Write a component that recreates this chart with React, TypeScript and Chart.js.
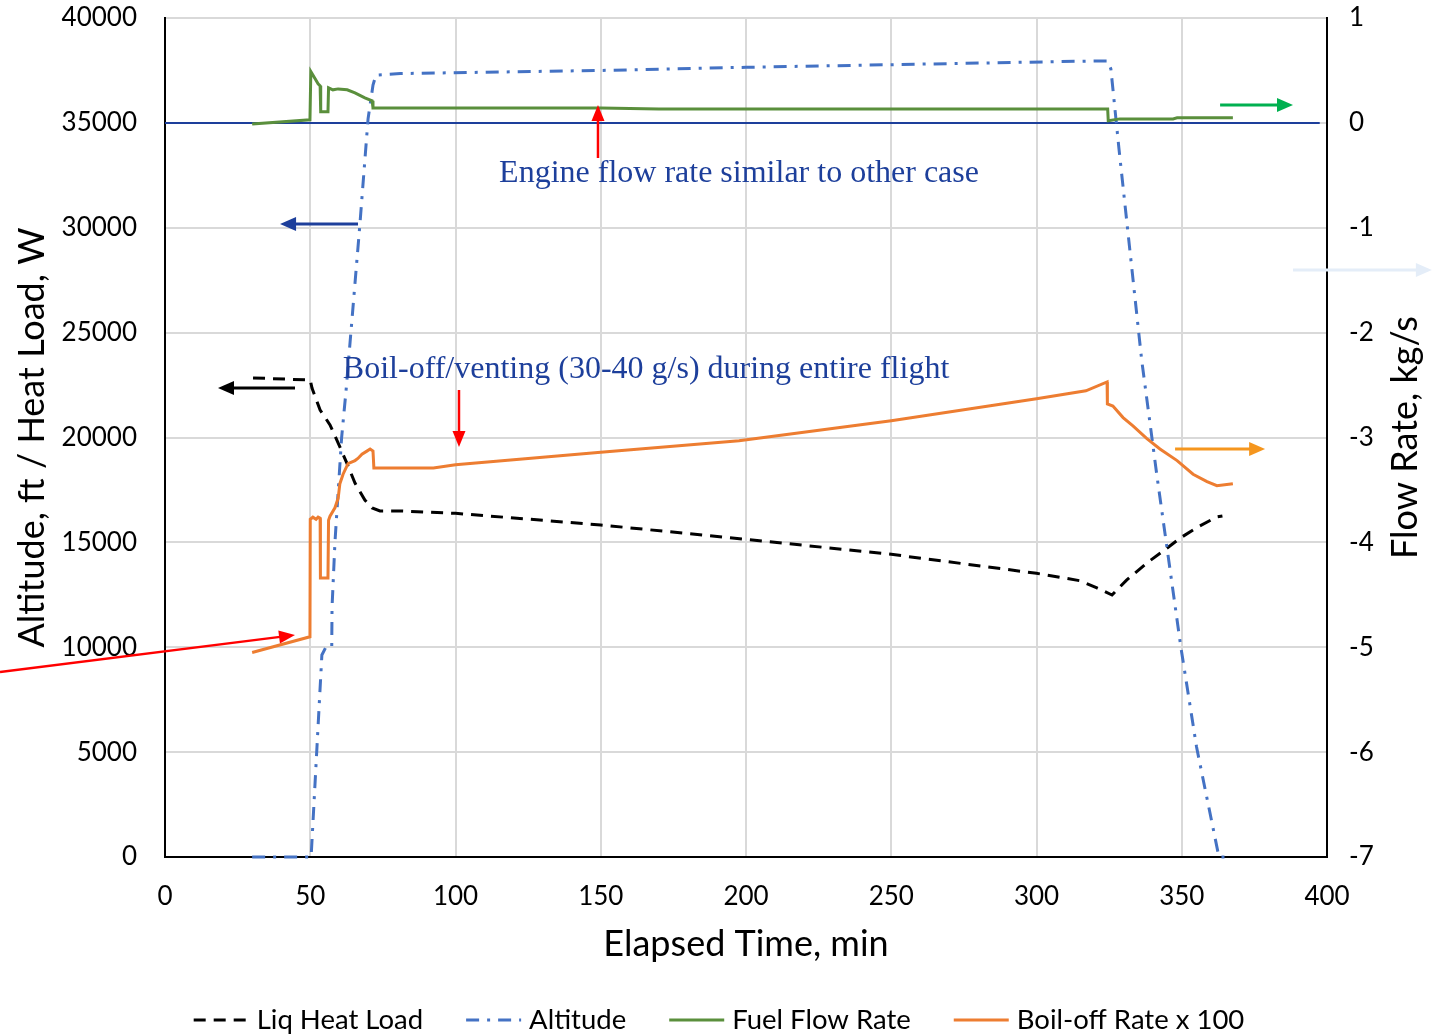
import React, { useEffect, useRef } from 'react';
import { Chart, registerables } from 'chart.js';

Chart.register(...registerables);

// ---------- axis ranges ----------
const X_MIN = 0;
const X_MAX = 400;
const X_STEP = 50;
const LEFT_MIN = 0;
const LEFT_MAX = 40000;
const LEFT_STEP = 5000;
const RIGHT_MIN = -7;
const RIGHT_MAX = 1;
const RIGHT_STEP = 1;

const xTitle = 'Elapsed Time, min';
const leftTitle = 'Altitude, ft / Heat Load, W';
const rightTitle = 'Flow Rate, kg/s';

const seriesLabels = ['Liq Heat Load', 'Altitude', 'Fuel Flow Rate', 'Boil-off Rate x 100'];

// ---------- series data ----------
// Liquid heat load (W) — left axis
const heatLoadTime = [30.3, 50.0, 50.6, 53.4, 56.8, 60.2, 62.6, 65.4, 68.8, 71.3, 74, 81.6, 100, 150, 200, 250, 300, 315, 320.8, 326, 331, 338, 345, 349.4, 355, 362, 364];
const heatLoadW = [22840, 22740, 22360, 21310, 20600, 19550, 18780, 17830, 17020, 16640, 16500, 16495, 16385, 15830, 15145, 14430, 13525, 13170, 12830, 12490, 13200, 14020, 14730, 15200, 15690, 16210, 16260];

// Altitude (ft) — left axis
const altitudeTime = [30, 50.3, 54.0, 55.4, 57.4, 57.5, 58.5, 60.8, 62.3, 67.1, 69.9, 71.6, 72.6, 81, 150, 200, 260, 320, 324.5, 325.6, 328.4, 336.2, 341.5, 349.7, 355.1, 362.8, 366];
const altitudeFt = [0, 0, 9630, 10010, 10010, 11900, 15000, 20000, 22200, 30180, 35190, 36800, 37280, 37350, 37500, 37650, 37800, 37950, 37950, 37570, 33750, 23700, 18130, 10000, 5240, 0, 0];

// Fuel flow rate (kg/s) — right axis
const fuelFlowTime = [30, 49.9, 50.2, 52.7, 53.4, 53.6, 56.1, 56.3, 57.8, 59.6, 62.7, 65.4, 68.8, 71.3, 71.6, 100, 150, 170, 250, 324.5, 324.7, 328.7, 347, 348.4, 367.6];
const fuelFlowKgs = [-0.01, 0.03, 0.49, 0.372, 0.353, 0.105, 0.105, 0.334, 0.315, 0.324, 0.315, 0.286, 0.238, 0.21, 0.143, 0.143, 0.143, 0.133, 0.133, 0.133, 0.02, 0.038, 0.038, 0.048, 0.048];

// Boil-off rate x 100 (kg/s) — right axis
const boilOffTime = [30, 49.9, 50.0, 50.9, 52.0, 52.7, 53.4, 53.5, 56.1, 56.3, 56.8, 58.5, 59.6, 60.2, 61.3, 63.0, 65.4, 66.4, 67.8, 69.5, 70.6, 71.6, 71.9, 80.9, 92.4, 100, 150, 197.6, 250, 300, 317, 324.3, 324.4, 326.3, 329.8, 333.2, 338, 342.5, 348.4, 353.9, 358.7, 362.1, 367.6];
const boilOffX100 = [-5.05, -4.90, -3.78, -3.76, -3.78, -3.76, -3.77, -4.34, -4.34, -3.79, -3.75, -3.67, -3.58, -3.44, -3.35, -3.25, -3.22, -3.20, -3.16, -3.13, -3.11, -3.13, -3.29, -3.29, -3.29, -3.26, -3.14, -3.03, -2.84, -2.63, -2.555, -2.47, -2.68, -2.70, -2.81, -2.89, -3.01, -3.11, -3.22, -3.35, -3.42, -3.46, -3.44];

// Reference line at zero flow rate
const zeroLineTime = [0, 397.5];
const zeroLineValue = [0, 0];

// ---------- annotations (data coordinates: x = min, y = left axis) ----------
type Arrow = { from: [number, number]; to: [number, number]; color: string; width: number; head: number; headW: number };
const arrows: Arrow[] = [
  { from: [-56.8, 8820], to: [44.75, 10584], color: '#FF0000', width: 2.5, head: 16, headW: 13 },
  { from: [149.05, 33325], to: [149.05, 35850], color: '#FF0000', width: 2.5, head: 16, headW: 13 },
  { from: [101.2, 22265], to: [101.2, 19547], color: '#FF0000', width: 2.5, head: 16, headW: 13 },
  { from: [44.75, 22360], to: [18.24, 22360], color: '#000000', width: 3, head: 16, headW: 14 },
  { from: [66.44, 30180], to: [39.6, 30180], color: '#1D3F9B', width: 3, head: 16, headW: 14 },
  { from: [363.2, 35858], to: [388.3, 35858], color: '#00B050', width: 3, head: 16, headW: 14 },
  { from: [347.7, 19452], to: [378.7, 19452], color: '#F5961E', width: 3, head: 16, headW: 14 },
  { from: [388.3, 27986], to: [436.1, 27986], color: '#E4EDF8', width: 3, head: 16, headW: 14 },
];
type Note = { text: string; at: [number, number]; color: string };
const notes: Note[] = [
  { text: 'Engine flow rate similar to other case', at: [197.6, 32560], color: '#1D3F9B' },
  { text: 'Boil-off/venting (30-40 g/s) during entire flight', at: [165.6, 23218], color: '#1D3F9B' },
];

const pts = (xs: number[], ys: number[]) => xs.map((x, i) => ({ x, y: ys[i] }));

const FONT = 'Lato';
const TITLE_SIZE = 36;

function drawArrow(ctx: CanvasRenderingContext2D, x0: number, y0: number, x1: number, y1: number, a: Arrow) {
  const ang = Math.atan2(y1 - y0, x1 - x0);
  const c = Math.cos(ang);
  const s = Math.sin(ang);
  const bx = x1 - a.head * c;
  const by = y1 - a.head * s;
  ctx.strokeStyle = a.color;
  ctx.fillStyle = a.color;
  ctx.lineWidth = a.width;
  ctx.setLineDash([]);
  ctx.beginPath();
  ctx.moveTo(x0, y0);
  ctx.lineTo(bx + c, by + s);
  ctx.stroke();
  ctx.beginPath();
  ctx.moveTo(x1, y1);
  ctx.lineTo(bx + (a.headW / 2) * s, by - (a.headW / 2) * c);
  ctx.lineTo(bx - (a.headW / 2) * s, by + (a.headW / 2) * c);
  ctx.closePath();
  ctx.fill();
}

const annotationPlugin = {
  id: 'annotations',
  afterDatasetsDraw(chart: any) {
    const { ctx, scales, chartArea } = chart;
    const xs = scales.x;
    const ys = scales.y;
    ctx.save();
    for (const a of arrows) {
      drawArrow(
        ctx,
        xs.getPixelForValue(a.from[0]),
        ys.getPixelForValue(a.from[1]),
        xs.getPixelForValue(a.to[0]),
        ys.getPixelForValue(a.to[1]),
        a
      );
    }
    ctx.font = '32px "Liberation Serif", "Times New Roman", serif';
    ctx.textAlign = 'center';
    ctx.textBaseline = 'middle';
    for (const n of notes) {
      ctx.fillStyle = n.color;
      ctx.fillText(n.text, xs.getPixelForValue(n.at[0]), ys.getPixelForValue(n.at[1]));
    }
    // right-axis title, reading bottom-to-top like the left one
    ctx.save();
    ctx.translate(scales.y1.right - 27, (chartArea.top + chartArea.bottom) / 2);
    ctx.rotate(-Math.PI / 2);
    ctx.font = `${TITLE_SIZE}px ${FONT}`;
    ctx.fillStyle = '#000';
    ctx.fillText(rightTitle, 0, 0);
    ctx.restore();
    ctx.restore();
  },
};

const legendPlugin = {
  id: 'bottomLegend',
  afterDraw(chart: any) {
    const { ctx } = chart;
    const items = chart.data.datasets.filter((d: any) => d.label);
    const sample = 55;
    const gapText = 8;
    const gapItem = 43;
    ctx.save();
    ctx.font = `27.5px ${FONT}`;
    const widths = items.map((d: any) => sample + gapText + ctx.measureText(d.label).width);
    const total = widths.reduce((a: number, b: number) => a + b, 0) + gapItem * (items.length - 1);
    let x = 719 - total / 2;
    const y = 1020;
    items.forEach((d: any, i: number) => {
      ctx.strokeStyle = d.borderColor;
      ctx.lineWidth = 3;
      ctx.lineCap = 'butt';
      ctx.setLineDash(d.borderDash || []);
      ctx.beginPath();
      ctx.moveTo(x, y);
      ctx.lineTo(x + sample, y);
      ctx.stroke();
      ctx.setLineDash([]);
      ctx.fillStyle = '#000';
      ctx.textAlign = 'left';
      ctx.textBaseline = 'middle';
      ctx.fillText(d.label, x + sample + gapText, y);
      x += widths[i] + gapItem;
    });
    ctx.restore();
  },
};

export default function App() {
  const canvasRef = useRef<HTMLCanvasElement | null>(null);

  useEffect(() => {
    const canvas = canvasRef.current;
    if (!canvas) return;
    Chart.defaults.font.family = FONT;
    Chart.defaults.color = '#000';

    const tickFont = { family: FONT, size: 26 };
    const titleFont = { family: FONT, size: TITLE_SIZE };

    const chart = new Chart(canvas, {
      type: 'line',
      data: {
        datasets: [
          {
            label: seriesLabels[0],
            data: pts(heatLoadTime, heatLoadW),
            yAxisID: 'y',
            borderColor: '#000000',
            borderWidth: 3,
            borderDash: [12, 8],
            pointRadius: 0,
            tension: 0,
            fill: false,
            clip: false,
            order: 4,
          },
          {
            label: seriesLabels[1],
            data: pts(altitudeTime, altitudeFt),
            yAxisID: 'y',
            borderColor: '#4472C4',
            borderWidth: 3,
            borderDash: [13, 8, 3, 8],
            pointRadius: 0,
            tension: 0,
            fill: false,
            clip: false,
            order: 3,
          },
          {
            label: seriesLabels[2],
            data: pts(fuelFlowTime, fuelFlowKgs),
            yAxisID: 'y1',
            borderColor: '#5A8F3C',
            borderWidth: 3,
            pointRadius: 0,
            tension: 0,
            fill: false,
            clip: false,
            order: 2,
          },
          {
            label: seriesLabels[3],
            data: pts(boilOffTime, boilOffX100),
            yAxisID: 'y1',
            borderColor: '#ED7D31',
            borderWidth: 3,
            pointRadius: 0,
            tension: 0,
            fill: false,
            clip: false,
            order: 1,
          },
          {
            label: '',
            data: pts(zeroLineTime, zeroLineValue),
            yAxisID: 'y1',
            borderColor: '#1D3F9B',
            borderWidth: 2,
            pointRadius: 0,
            tension: 0,
            fill: false,
            clip: false,
            order: 5,
          },
        ],
      },
      options: {
        responsive: false,
        devicePixelRatio: 1,
        animation: false,
        layout: { padding: { top: 18, left: 0, right: 0, bottom: 0 } },
        plugins: {
          legend: { display: false },
          tooltip: { enabled: false },
        },
        scales: {
          x: {
            type: 'linear',
            min: X_MIN,
            max: X_MAX,
            ticks: {
              stepSize: X_STEP,
              font: tickFont,
              color: '#000',
              padding: 24,
              maxRotation: 0,
              autoSkip: false,
              callback: (v: any) => String(v),
            },
            grid: { color: '#D9D9D9', lineWidth: 2, drawTicks: false },
            border: { display: true, color: '#000', width: 2 },
            title: { display: true, text: xTitle, font: titleFont, color: '#000', padding: { top: 0, bottom: 69 } },
            afterFit: (s: any) => {
              s.height = 1035 - 857;
              s.paddingLeft = 0;
              s.paddingRight = 0;
            },
          },
          y: {
            type: 'linear',
            position: 'left',
            min: LEFT_MIN,
            max: LEFT_MAX,
            ticks: {
              stepSize: LEFT_STEP,
              font: tickFont,
              color: '#000',
              padding: 28,
              callback: (v: any) => String(v),
            },
            grid: { color: '#D9D9D9', lineWidth: 2, drawTicks: false },
            border: { display: true, color: '#000', width: 2 },
            title: { display: true, text: leftTitle, font: titleFont, color: '#000', padding: { top: 11, bottom: 0 } },
            afterFit: (s: any) => {
              s.width = 165;
              s.paddingTop = 0;
              s.paddingBottom = 0;
            },
          },
          y1: {
            type: 'linear',
            position: 'right',
            min: RIGHT_MIN,
            max: RIGHT_MAX,
            ticks: {
              stepSize: RIGHT_STEP,
              font: tickFont,
              color: '#000',
              padding: 22,
              callback: (v: any) => String(v),
            },
            grid: { display: false, drawTicks: false },
            border: { display: true, color: '#000', width: 2 },
            title: { display: false },
            afterFit: (s: any) => {
              s.width = 1432 - 1327;
              s.paddingTop = 0;
              s.paddingBottom = 0;
            },
          },
        },
      } as any,
      plugins: [annotationPlugin, legendPlugin],
    });

    return () => {
      chart.destroy();
    };
  }, []);

  return (
    <canvas
      ref={canvasRef}
      width={1432}
      height={1035}
      style={{ position: 'fixed', left: 0, top: 0, display: 'block', width: 1432, height: 1035 }}
    />
  );
}
